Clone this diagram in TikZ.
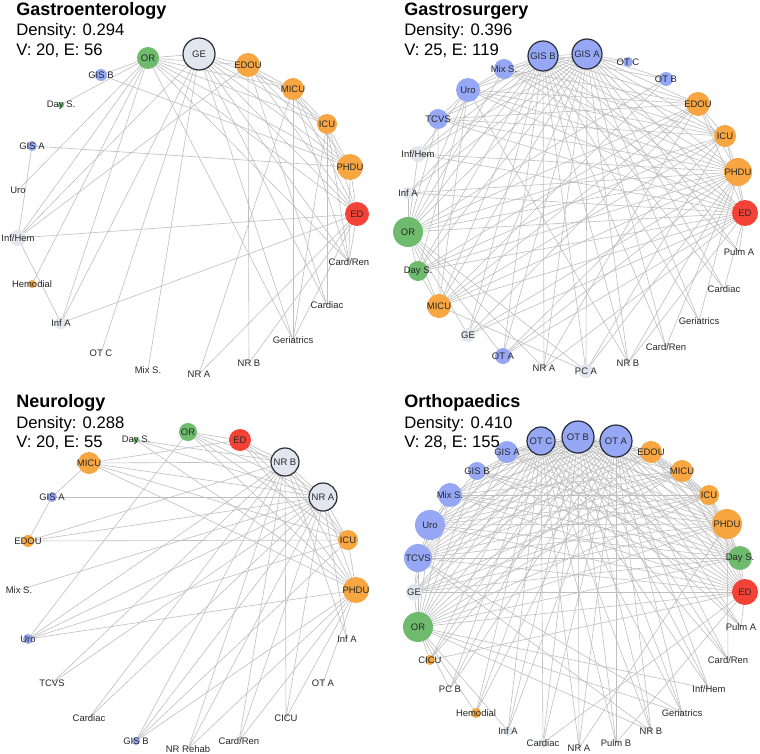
\documentclass[tikz,border=0pt]{standalone}
\usepackage{fontspec}
\setmainfont{Liberation Sans}
\definecolor{cO}{RGB}{247,166,66}
\definecolor{cG}{RGB}{110,187,110}
\definecolor{cB}{RGB}{150,168,245}
\definecolor{cR}{RGB}{244,67,54}
\definecolor{cY}{RGB}{226,231,239}
\definecolor{cK}{RGB}{40,45,55}
\definecolor{cT}{RGB}{40,40,40}
\tikzset{
  edge/.style={draw=black!25, line width=0.45pt},
  dot/.style={circle, fill=#1, draw=none, inner sep=0pt},
  hub/.style={circle, fill=#1, draw=cK, line width=0.9pt, inner sep=0pt},
  lab/.style={inner sep=0pt, text=cT, font=\fontsize{7.1}{8}\selectfont},
  ttl/.style={anchor=base west, inner sep=0pt, font=\fontsize{13.5}{16}\selectfont\bfseries},
  info/.style={anchor=base west, inner sep=0pt, font=\fontsize{12.5}{15}\selectfont},
}
\begin{document}
\begin{tikzpicture}[x=0.75pt,y=-0.75pt]
\fill[white] (0,0) rectangle (760,753);
\useasboundingbox (0,0) rectangle (760,753);

% ================= Panel 1: Gastroenterology =================
\foreach \n/\x/\y in {GE/199/54, OR/148/58, EDOU/248/65, MICU/293/89, ICU/327/124, PHDU/350/167, ED/357/214, GISB/101/75, DayS/61/105, GISA/32/146, Uro/18/190, InfHem/18/238, Hemo/32/284, InfA/61/323, OTC/101/353, MixS/148/370, NRA/199/374, NRB/249/363, Geri/293/340, Card/327/305, CardRen/349/262}
  \coordinate (p1-\n) at (\x,\y);
\foreach \a/\bl in {GE/{OR,EDOU,MICU,ICU,PHDU,ED,InfHem,InfA,OTC,MixS,Card,CardRen,Geri},
  OR/{EDOU,MICU,ICU,PHDU,ED,GISB,InfA,Hemo,Uro,Geri,DayS,InfHem,CardRen},
  EDOU/{MICU,ICU,PHDU,ED,NRB,InfHem,Card},
  MICU/{ICU,PHDU,ED,NRA,Geri,CardRen},
  ICU/{PHDU,ED,CardRen,Card,Geri},
  PHDU/{ED,GISB,GISA,CardRen},
  ED/{InfHem,InfA,NRA,NRB,Geri,CardRen},
  InfHem/{GISA,InfA}}
  {\foreach \b in \bl {\draw[edge] (p1-\a) -- (p1-\b);}}
\node[hub=cY, minimum size=24pt] (p1c-GE) at (p1-GE) {};
\foreach \n/\r/\c in {OR/11/cG, EDOU/12/cO, MICU/11/cO, ICU/10/cO, PHDU/13/cO, ED/12/cR, GISB/6/cB, DayS/3/cG, GISA/5/cB, InfHem/8/cY, Hemo/4/cO, InfA/6/cY}
  \node[dot=\c, minimum size={1.5pt*\r}] (p1c-\n) at (p1-\n) {};
\foreach \n/\t in {GE/GE, OR/OR, EDOU/EDOU, MICU/MICU, ICU/ICU, PHDU/PHDU, ED/ED, GISB/GIS B, DayS/Day S., GISA/GIS A, Uro/Uro, InfHem/{Inf/Hem}, Hemo/Hemodial, InfA/Inf A, OTC/OT C, MixS/Mix S., NRA/NR A, NRB/NR B, Geri/Geriatrics, Card/Cardiac, CardRen/{Card/Ren}}
  \node[lab] (p1l-\n) at (p1-\n) {\t};
\node[ttl] (t1) at (16,15) {Gastroenterology};
\node[info] (d1) at (16,36) {Density: 0.294};
\node[info] (v1) at (16,55) {V: 20, E: 56};

% ================= Panel 2: Gastrosurgery =================
\foreach \n/\x/\y in {GISB/543/56, GISA/587/54, OTC/628/62, OTB/666/79, EDOU/698/104, ICU/725/136, PHDU/738/172, ED/745/213, PulmA/739/252, Card/724/289, Geri/699/321, CardRen/666/347, NRB/628/363, PCA/586/371, NRA/544/368, OTA/503/356, GE/468/335, MICU/439/306, DayS/418/271, OR/408/232, InfA/408/193, InfHem/418/154, TCVS/438/119, Uro/468/90, MixS/504/69}
  \coordinate (p2-\n) at (\x,\y);
\foreach \a/\bl in {GISB/{GISA,OTC,OTB,EDOU,ICU,PHDU,ED,PulmA,Card,Geri,CardRen,NRB,PCA,NRA,OTA,GE,MICU,DayS,OR,InfA,InfHem,TCVS,Uro,MixS},
  GISA/{OTC,OTB,EDOU,ICU,PHDU,ED,PulmA,Card,Geri,CardRen,NRB,PCA,NRA,OTA,GE,MICU,DayS,OR,InfA,InfHem,TCVS,Uro,MixS},
  OR/{EDOU,ICU,PHDU,ED,DayS,MICU,InfA,InfHem,TCVS,Uro,MixS,OTB,OTA,GE,NRA,PCA},
  PHDU/{EDOU,ICU,ED,MICU,DayS,Uro,TCVS,MixS,InfHem,InfA,NRB,CardRen,Geri,PCA,GE,OTA},
  ED/{EDOU,ICU,MICU,DayS,Uro,TCVS,MixS,InfA,InfHem,PulmA,Card,NRB,OTA,GE,NRA},
  EDOU/{ICU,MICU,DayS,Uro,TCVS,MixS,GE,NRA},
  ICU/{MICU,DayS,Uro,TCVS,MixS,OTA,PCA},
  MICU/{DayS,Uro,TCVS,PCA,OTB},
  Uro/{DayS,TCVS,MixS,InfHem,NRB}}
  {\foreach \b in \bl {\draw[edge] (p2-\a) -- (p2-\b);}}
\foreach \n in {GISB,GISA}
  \node[hub=cB, minimum size=22.5pt] (p2c-\n) at (p2-\n) {};
\foreach \n/\r/\c in {OTC/5/cB, OTB/7/cB, EDOU/12/cO, ICU/11/cO, PHDU/14/cO, ED/13/cR, PCA/7/cY, OTA/8/cB, GE/7/cY, MICU/12/cO, DayS/10/cG, OR/15/cG, InfA/6/cY, InfHem/8/cY, TCVS/10/cB, Uro/12/cB, MixS/10/cB}
  \node[dot=\c, minimum size={1.5pt*\r}] (p2c-\n) at (p2-\n) {};
\foreach \n/\t in {GISB/GIS B, GISA/GIS A, OTC/OT C, OTB/OT B, EDOU/EDOU, ICU/ICU, PHDU/PHDU, ED/ED, PulmA/Pulm A, Card/Cardiac, Geri/Geriatrics, CardRen/{Card/Ren}, NRB/NR B, PCA/PC A, NRA/NR A, OTA/OT A, GE/GE, MICU/MICU, DayS/Day S., OR/OR, InfA/Inf A, InfHem/{Inf/Hem}, TCVS/TCVS, Uro/Uro, MixS/Mix S.}
  \node[lab] (p2l-\n) at (p2-\n) {\t};
\node[ttl] (t2) at (404,15) {Gastrosurgery};
\node[info] (d2) at (404,36) {Density: 0.396};
\node[info] (v2) at (404,55) {V: 25, E: 119};

% ================= Panel 3: Neurology =================
\foreach \n/\x/\y in {DayS/136/440, OR/188/432, ED/240/440, NRB/285/462, NRA/323/497, ICU/348/540, PHDU/356/590, InfA/347/639, OTA/323/683, CICU/286/718, CardRen/239/741, NRRehab/188/749, GISB/136/741, Card/89/718, TCVS/52/683, Uro/28/639, MixS/19/590, EDOU/28/541, GISA/52/497, MICU/89/463}
  \coordinate (p3-\n) at (\x,\y);
\foreach \a/\bl in {MICU/{NRB,NRA,ICU,PHDU,GISA,ED},
  GISA/{NRA,EDOU},
  DayS/{NRB,NRA,PHDU},
  OR/{NRB,NRA,ICU,PHDU,ED,Uro},
  ED/{NRB,NRA,ICU,PHDU},
  NRB/{NRA,ICU,PHDU,EDOU,Uro,Card,GISB,NRRehab,CardRen,CICU,InfA,TCVS},
  NRA/{ICU,PHDU,EDOU,MixS,Uro,TCVS,GISB,NRRehab,CardRen,CICU,InfA,Card},
  ICU/{PHDU,EDOU,Uro,GISB},
  PHDU/{OTA,NRRehab,CardRen,CICU,GISB,Uro}}
  {\foreach \b in \bl {\draw[edge] (p3-\a) -- (p3-\b);}}
\foreach \n in {NRB,NRA}
  \node[hub=cY, minimum size=21pt] (p3c-\n) at (p3-\n) {};
\foreach \n/\r/\c in {DayS/3/cG, OR/9/cG, ED/11/cR, ICU/10/cO, PHDU/13/cO, GISB/4/cB, Uro/5/cB, EDOU/6/cO, GISA/5/cB, MICU/11/cO}
  \node[dot=\c, minimum size={1.5pt*\r}] (p3c-\n) at (p3-\n) {};
\foreach \n/\t in {DayS/Day S., OR/OR, ED/ED, NRB/NR B, NRA/NR A, ICU/ICU, PHDU/PHDU, InfA/Inf A, OTA/OT A, CICU/CICU, CardRen/{Card/Ren}, NRRehab/NR Rehab, GISB/GIS B, Card/Cardiac, TCVS/TCVS, Uro/Uro, MixS/Mix S., EDOU/EDOU, GISA/GIS A, MICU/MICU}
  \node[lab] (p3l-\n) at (p3-\n) {\t};
\node[ttl] (t3) at (16,407) {Neurology};
\node[info] (d3) at (16,428) {Density: 0.288};
\node[info] (v3) at (16,447) {V: 20, E: 55};

% ================= Panel 4: Orthopaedics =================
\foreach \n/\x/\y in {OTC/541/441, OTB/578/437, OTA/616/441, EDOU/651/452, MICU/682/471, ICU/709/495, PHDU/727/524, DayS/740/558, ED/745/592, PulmA/741/627, CardRen/728/660, InfHem/709/689, Geri/682/713, NRB/651/731, PulmB/616/743, NRA/579/748, Card/543/743, InfA/508/731, Hemo/476/713, PCB/450/689, CICU/430/660, OR/418/627, GE/414/592, TCVS/418/558, Uro/430/525, MixS/450/495, GISB/477/471, GISA/507/452}
  \coordinate (p4-\n) at (\x,\y);
\foreach \a/\bl in {OTB/{OTC,OTA,EDOU,MICU,ICU,PHDU,DayS,ED,PulmA,CardRen,InfHem,Geri,NRB,PulmB,NRA,Card,InfA,Hemo,PCB,CICU,OR,GE,TCVS,Uro,MixS,GISB,GISA},
  OTA/{OTC,EDOU,MICU,ICU,PHDU,DayS,ED,PulmA,CardRen,InfHem,Geri,NRB,PulmB,NRA,Card,InfA,Hemo,PCB,CICU,OR,GE,TCVS,Uro,MixS,GISB,GISA},
  OTC/{EDOU,MICU,ICU,PHDU,DayS,ED,PulmA,CardRen,InfHem,Geri,NRB,PulmB,NRA,Card,InfA,Hemo,PCB,CICU,OR,GE,TCVS,Uro,MixS,GISB,GISA},
  OR/{EDOU,MICU,ICU,PHDU,DayS,ED,GE,TCVS,Uro,MixS,GISB,GISA,CICU,PCB,Hemo,InfA,NRB,Geri,InfHem},
  ED/{EDOU,MICU,ICU,PHDU,DayS,GE,TCVS,Uro,MixS,GISB,GISA,PulmA,CICU,Card,PulmB},
  PHDU/{EDOU,MICU,ICU,DayS,GE,TCVS,Uro,MixS,GISB,GISA,NRA,CardRen},
  TCVS/{EDOU,MICU,ICU,DayS,GE,Uro,MixS,GISA,Geri,NRB},
  Uro/{EDOU,MICU,ICU,DayS,GE,MixS,GISB},
  MICU/{ICU,DayS,GE,MixS,EDOU},
  ICU/{DayS,EDOU,GE,MixS},
  DayS/{GE,MixS,EDOU,GISA,GISB}}
  {\foreach \b in \bl {\draw[edge] (p4-\a) -- (p4-\b);}}
\node[hub=cB, minimum size=21pt] (p4c-OTC) at (p4-OTC) {};
\node[hub=cB, minimum size=24pt] (p4c-OTB) at (p4-OTB) {};
\node[hub=cB, minimum size=24pt] (p4c-OTA) at (p4-OTA) {};
\foreach \n/\r/\c in {EDOU/11/cO, MICU/11/cO, ICU/10/cO, PHDU/15/cO, DayS/12/cG, ED/13/cR, Card/5/cY, InfA/5/cY, Hemo/5/cO, CICU/5/cO, OR/15/cG, GE/8/cY, TCVS/14/cB, Uro/15/cB, MixS/12/cB, GISB/9/cB, GISA/11/cB}
  \node[dot=\c, minimum size={1.5pt*\r}] (p4c-\n) at (p4-\n) {};
\foreach \n/\t in {OTC/OT C, OTB/OT B, OTA/OT A, EDOU/EDOU, MICU/MICU, ICU/ICU, PHDU/PHDU, DayS/Day S., ED/ED, PulmA/Pulm A, CardRen/{Card/Ren}, InfHem/{Inf/Hem}, Geri/Geriatrics, NRB/NR B, PulmB/Pulm B, NRA/NR A, Card/Cardiac, InfA/Inf A, Hemo/Hemodial, PCB/PC B, CICU/CICU, OR/OR, GE/GE, TCVS/TCVS, Uro/Uro, MixS/Mix S., GISB/GIS B, GISA/GIS A}
  \node[lab] (p4l-\n) at (p4-\n) {\t};
\node[ttl] (t4) at (404,407) {Orthopaedics};
\node[info] (d4) at (404,428) {Density: 0.410};
\node[info] (v4) at (404,447) {V: 28, E: 155};
\end{tikzpicture}
\end{document}
